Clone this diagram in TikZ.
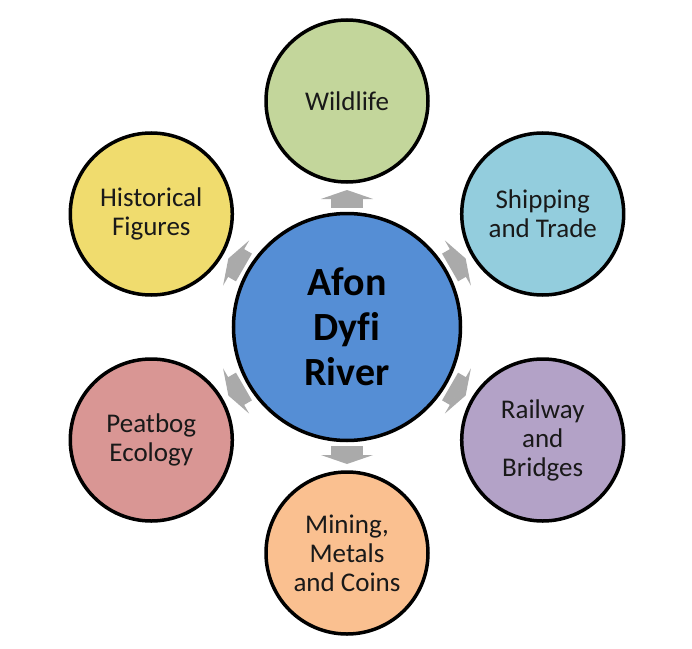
\documentclass[tikz,border=0pt]{standalone}
\usepackage{fontspec}
\setmainfont[Ligatures=NoCommon]{Carlito}
\usepackage{xcolor}
\usepackage{tikz}
\usetikzlibrary{positioning,calc}
\usetikzlibrary{arrows.meta}

\definecolor{riverblue}{HTML}{558ED5}
\definecolor{wildgreen}{HTML}{C3D69B}
\definecolor{shipblue}{HTML}{93CDDD}
\definecolor{railpurple}{HTML}{B3A2C7}
\definecolor{mineorange}{HTML}{FAC090}
\definecolor{bogred}{HTML}{D99694}
\definecolor{histyellow}{HTML}{F0DC6E}
\definecolor{arrowgray}{HTML}{AAAAAA}

\begin{document}
\begin{tikzpicture}[
    topic/.style={circle, draw=black, line width=3.5pt, minimum size=162pt,
      inner sep=0pt, align=center, text=black!90,
      font=\fontsize{27pt}{29pt}\selectfont},
    spoke/.style={arrowgray, line width=32pt,
      -{Triangle[width=52pt,length=9pt]}, shorten <=3.75pt, shorten >=6.25pt}
  ]
  \useasboundingbox (-347pt,-321pt) rectangle (345pt,327pt);

  \node[circle, draw=black, line width=3.5pt, fill=riverblue, minimum size=227pt,
    align=center, font=\fontsize{40pt}{45pt}\selectfont\bfseries] (river) at (0,0)
    {Afon\\Dyfi\\River};

  \node[topic, fill=wildgreen] (wild) at (90:226pt) {Wildlife};
  \node[topic, fill=shipblue] (ship) at (30:226pt) {Shipping\\and Trade};
  \node[topic, fill=railpurple] (rail) at (-30:226pt) {Railway\\and\\Bridges};
  \node[topic, fill=mineorange] (mine) at (-90:226pt) {Mining,\\Metals\\and Coins};
  \node[topic, fill=bogred] (bog) at (210:226pt) {Peatbog\\Ecology};
  \node[topic, fill=histyellow] (hist) at (150:226pt) {Historical\\Figures};

  \foreach \t in {wild,ship,rail,mine,bog,hist}
    \draw[spoke] (river) -- (\t);
\end{tikzpicture}
\end{document}
